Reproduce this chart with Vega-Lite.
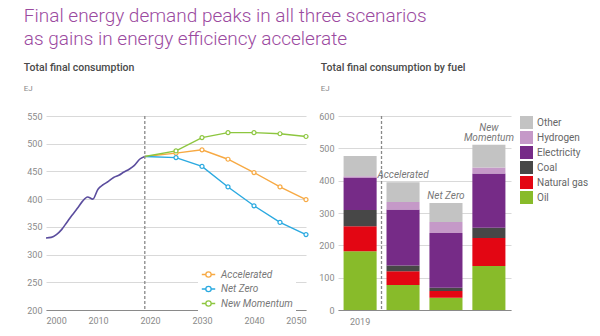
{
  "$schema": "https://vega.github.io/schema/vega-lite/v6.json",
  "padding": {"left": 23, "top": 6, "right": 0, "bottom": 0},
  "background": "white",
  "config": {
    "font": "Roboto",
    "view": {"stroke": null},
    "axis": {"labelColor": "#8a8a8a", "labelFontSize": 9, "ticks": false, "gridColor": "#d9d9d9", "domainColor": "#8a8a8a", "title": null, "labelOverlap": false}
  },
  "title": {
    "text": ["Final energy demand peaks in all three scenarios", "as gains in energy efficiency accelerate"],
    "anchor": "start",
    "fontSize": 19,
    "fontWeight": 300,
    "color": "#9b4a9f",
    "lineHeight": 23,
    "offset": 14
  },
  "datasets": {
    "history": [
      {"year": 2000, "value": 330}, {"year": 2001, "value": 331}, {"year": 2002, "value": 336},
      {"year": 2003, "value": 345}, {"year": 2004, "value": 358}, {"year": 2005, "value": 371},
      {"year": 2006, "value": 383}, {"year": 2007, "value": 396}, {"year": 2008, "value": 404},
      {"year": 2009, "value": 400}, {"year": 2010, "value": 418}, {"year": 2011, "value": 426},
      {"year": 2012, "value": 432}, {"year": 2013, "value": 439}, {"year": 2014, "value": 443},
      {"year": 2015, "value": 449}, {"year": 2016, "value": 454}, {"year": 2017, "value": 461},
      {"year": 2018, "value": 472}, {"year": 2019, "value": 477}
    ],
    "scenarios": [
      {"scenario": "Accelerated", "year": 2019, "value": 477},
      {"scenario": "Accelerated", "year": 2025, "value": 483},
      {"scenario": "Accelerated", "year": 2030, "value": 489},
      {"scenario": "Accelerated", "year": 2035, "value": 472},
      {"scenario": "Accelerated", "year": 2040, "value": 448},
      {"scenario": "Accelerated", "year": 2045, "value": 422},
      {"scenario": "Accelerated", "year": 2050, "value": 399},
      {"scenario": "Net Zero", "year": 2019, "value": 477},
      {"scenario": "Net Zero", "year": 2025, "value": 475},
      {"scenario": "Net Zero", "year": 2030, "value": 459},
      {"scenario": "Net Zero", "year": 2035, "value": 422},
      {"scenario": "Net Zero", "year": 2040, "value": 388},
      {"scenario": "Net Zero", "year": 2045, "value": 358},
      {"scenario": "Net Zero", "year": 2050, "value": 336},
      {"scenario": "New Momentum", "year": 2019, "value": 477},
      {"scenario": "New Momentum", "year": 2025, "value": 487},
      {"scenario": "New Momentum", "year": 2030, "value": 511},
      {"scenario": "New Momentum", "year": 2035, "value": 520},
      {"scenario": "New Momentum", "year": 2040, "value": 520},
      {"scenario": "New Momentum", "year": 2045, "value": 518},
      {"scenario": "New Momentum", "year": 2050, "value": 513}
    ],
    "fuels": [
      {"case": "2019", "fuel": "Oil", "value": 182},
      {"case": "2019", "fuel": "Natural gas", "value": 77},
      {"case": "2019", "fuel": "Coal", "value": 50},
      {"case": "2019", "fuel": "Electricity", "value": 101},
      {"case": "2019", "fuel": "Hydrogen", "value": 4},
      {"case": "2019", "fuel": "Other", "value": 62},
      {"case": "Accelerated", "fuel": "Oil", "value": 77},
      {"case": "Accelerated", "fuel": "Natural gas", "value": 43},
      {"case": "Accelerated", "fuel": "Coal", "value": 18},
      {"case": "Accelerated", "fuel": "Electricity", "value": 173},
      {"case": "Accelerated", "fuel": "Hydrogen", "value": 23},
      {"case": "Accelerated", "fuel": "Other", "value": 61},
      {"case": "Net Zero", "fuel": "Oil", "value": 38},
      {"case": "Net Zero", "fuel": "Natural gas", "value": 21},
      {"case": "Net Zero", "fuel": "Coal", "value": 10},
      {"case": "Net Zero", "fuel": "Electricity", "value": 169},
      {"case": "Net Zero", "fuel": "Hydrogen", "value": 34},
      {"case": "Net Zero", "fuel": "Other", "value": 59},
      {"case": "New Momentum", "fuel": "Oil", "value": 136},
      {"case": "New Momentum", "fuel": "Natural gas", "value": 87},
      {"case": "New Momentum", "fuel": "Coal", "value": 31},
      {"case": "New Momentum", "fuel": "Electricity", "value": 168},
      {"case": "New Momentum", "fuel": "Hydrogen", "value": 19},
      {"case": "New Momentum", "fuel": "Other", "value": 70}
    ],
    "bracket": [{"from": "Accelerated", "mid": "Net Zero", "to": "New Momentum", "label": "2050"}]
  },
  "spacing": 7,
  "hconcat": [
    {
      "width": 260,
      "height": 194,
      "title": {"text": "Total final consumption", "subtitle": "EJ", "anchor": "start", "dx": -3, "fontSize": 10.5, "fontWeight": 500, "color": "#4a4a4a", "subtitleFontSize": 8, "subtitleColor": "#888", "subtitlePadding": 12, "offset": 19},
      "encoding": {
        "x": {"field": "year", "type": "quantitative", "scale": {"domain": [2000, 2050], "nice": false},
              "axis": {"values": [2000, 2010, 2020, 2030, 2040, 2050], "tickCount": 10, "format": "d", "grid": false, "labelPadding": 6}},
        "y": {"field": "value", "type": "quantitative", "scale": {"domain": [200, 550], "nice": false, "zero": false},
              "axis": {"values": [200, 250, 300, 350, 400, 450, 500, 550], "tickCount": 10, "domain": false, "grid": true, "labelPadding": 4}}
      },
      "layer": [
        {
          "data": {"name": "history"},
          "mark": {"type": "line", "color": "#5b4d9e", "strokeWidth": 1.6, "interpolate": "monotone"}
        },
        {
          "data": {"name": "scenarios"},
          "mark": {"type": "line", "strokeWidth": 1.4},
          "encoding": {
            "color": {"field": "scenario", "type": "nominal",
              "scale": {"domain": ["Accelerated", "Net Zero", "New Momentum"], "range": ["#f7a943", "#2aa9e0", "#8dc63f"]},
              "legend": {"title": null, "orient": "none", "legendX": 152, "legendY": 148, "fillColor": "white", "padding": 3,
                "symbolType": "M-1,0L-0.4,0M0.4,0L1,0M0.4,0A0.4,0.4,0,1,1,-0.4,0A0.4,0.4,0,1,1,0.4,0Z",
                "symbolSize": 180, "symbolStrokeWidth": 1.3, "symbolFillColor": "white",
                "labelFontStyle": "italic", "labelColor": "#777", "labelFontSize": 10, "rowPadding": 1.5, "labelOffset": 5}}
          }
        },
        {
          "data": {"name": "scenarios"},
          "transform": [{"filter": "datum.year > 2019"}],
          "mark": {"type": "point", "filled": true, "fill": "white", "size": 16, "strokeWidth": 1.2, "opacity": 1},
          "encoding": {
            "stroke": {"field": "scenario", "type": "nominal", "scale": {"domain": ["Accelerated", "Net Zero", "New Momentum"], "range": ["#f7a943", "#2aa9e0", "#8dc63f"]}, "legend": null}
          }
        },
        {
          "data": {"values": [{"year": 2019}]},
          "mark": {"type": "rule", "color": "#888", "strokeDash": [3, 2], "strokeWidth": 1.3},
          "encoding": {"y": null}
        }
      ],
      "resolve": {"scale": {"color": "independent"}}
    },
    {
      "width": 173,
      "height": 194,
      "title": {"text": "Total final consumption by fuel", "subtitle": "EJ", "anchor": "start", "dx": 2, "fontSize": 10.5, "fontWeight": 500, "color": "#4a4a4a", "subtitleFontSize": 8, "subtitleColor": "#888", "subtitlePadding": 12, "offset": 19},
      "encoding": {
        "x": {"field": "case", "type": "nominal", "sort": ["2019", "Accelerated", "Net Zero", "New Momentum"],
              "scale": {"paddingInner": 0.23, "paddingOuter": 0.13},
              "axis": {"labelAngle": 0, "labelExpr": "datum.value == '2019' ? '2019' : ''", "labelPadding": 7, "grid": false}},
        "y": {"field": "value", "type": "quantitative", "scale": {"domain": [0, 600], "nice": false},
              "axis": {"values": [0, 100, 200, 300, 400, 500, 600], "tickCount": 10, "domain": false, "grid": true, "labelPadding": 4}}
      },
      "layer": [
        {
          "data": {"name": "fuels"},
          "transform": [{"calculate": "indexof(['Oil', 'Natural gas', 'Coal', 'Electricity', 'Hydrogen', 'Other'], datum.fuel)", "as": "stackOrder"}],
          "mark": {"type": "bar"},
          "encoding": {
            "y": {"field": "value", "type": "quantitative", "aggregate": "sum", "stack": "zero"},
            "order": {"field": "stackOrder", "type": "quantitative", "sort": "ascending"},
            "color": {"field": "fuel", "type": "nominal",
              "scale": {"domain": ["Other", "Hydrogen", "Electricity", "Coal", "Natural gas", "Oil"], "range": ["#c3c3c3", "#c599c8", "#762b87", "#474747", "#e30613", "#88bb2a"]},
              "legend": {"title": null,
                "symbolType": "square", "symbolSize": 169, "symbolStrokeWidth": 0, "labelColor": "#666", "labelFontSize": 10,
                "rowPadding": 2, "offset": 6, "labelOffset": 4, "padding": 0}}
          }
        },
        {
          "data": {"name": "fuels"},
          "transform": [{"aggregate": [{"op": "sum", "field": "value", "as": "total"}], "groupby": ["case"]}, {"filter": "datum.case == 'Accelerated' || datum.case == 'Net Zero'"}],
          "mark": {"type": "text", "fontStyle": "italic", "color": "#777", "fontSize": 10, "baseline": "bottom", "dy": -2},
          "encoding": {
            "y": {"field": "total", "type": "quantitative"},
            "text": {"field": "case"}
          }
        },
        {
          "data": {"name": "fuels"},
          "transform": [{"aggregate": [{"op": "sum", "field": "value", "as": "total"}], "groupby": ["case"]}, {"filter": "datum.case == 'New Momentum'"}],
          "mark": {"type": "text", "fontStyle": "italic", "color": "#777", "fontSize": 10, "baseline": "bottom", "dy": -12, "lineBreak": " ", "lineHeight": 10},
          "encoding": {
            "y": {"field": "total", "type": "quantitative"},
            "text": {"field": "case"}
          }
        },
        {
          "data": {"values": [{"case": "Accelerated"}]},
          "mark": {"type": "rule", "color": "#888", "strokeDash": [3, 2], "strokeWidth": 1.3, "xOffset": -5},
          "encoding": {"x": {"field": "case", "type": "nominal", "bandPosition": 0}, "y": null}
        },
        {
          "data": {"name": "bracket"},
          "mark": {"type": "rule", "color": "#999", "strokeWidth": 1, "x2Offset": -13},
          "encoding": {
            "x": {"field": "from", "type": "nominal", "bandPosition": 0},
            "x2": {"field": "mid"},
            "y": {"datum": -31, "type": "quantitative"}
          }
        },
        {
          "data": {"name": "bracket"},
          "mark": {"type": "rule", "color": "#999", "strokeWidth": 1, "xOffset": 13},
          "encoding": {
            "x": {"field": "mid", "type": "nominal"},
            "x2": {"field": "to", "bandPosition": 1},
            "y": {"datum": -31, "type": "quantitative"}
          }
        },
        {
          "data": {"name": "bracket"},
          "mark": {"type": "rule", "color": "#999", "strokeWidth": 1},
          "encoding": {
            "x": {"field": "from", "type": "nominal", "bandPosition": 0},
            "y": {"datum": -31, "type": "quantitative"},
            "y2": {"datum": -2}
          }
        },
        {
          "data": {"name": "bracket"},
          "mark": {"type": "rule", "color": "#999", "strokeWidth": 1},
          "encoding": {
            "x": {"field": "to", "type": "nominal", "bandPosition": 1},
            "y": {"datum": -31, "type": "quantitative"},
            "y2": {"datum": -2}
          }
        },
        {
          "data": {"name": "bracket"},
          "mark": {"type": "text", "color": "#8a8a8a", "fontSize": 9, "baseline": "middle"},
          "encoding": {
            "x": {"field": "mid", "type": "nominal"},
            "y": {"datum": -31, "type": "quantitative"},
            "text": {"field": "label"}
          }
        }
      ]
    }
  ]
}
